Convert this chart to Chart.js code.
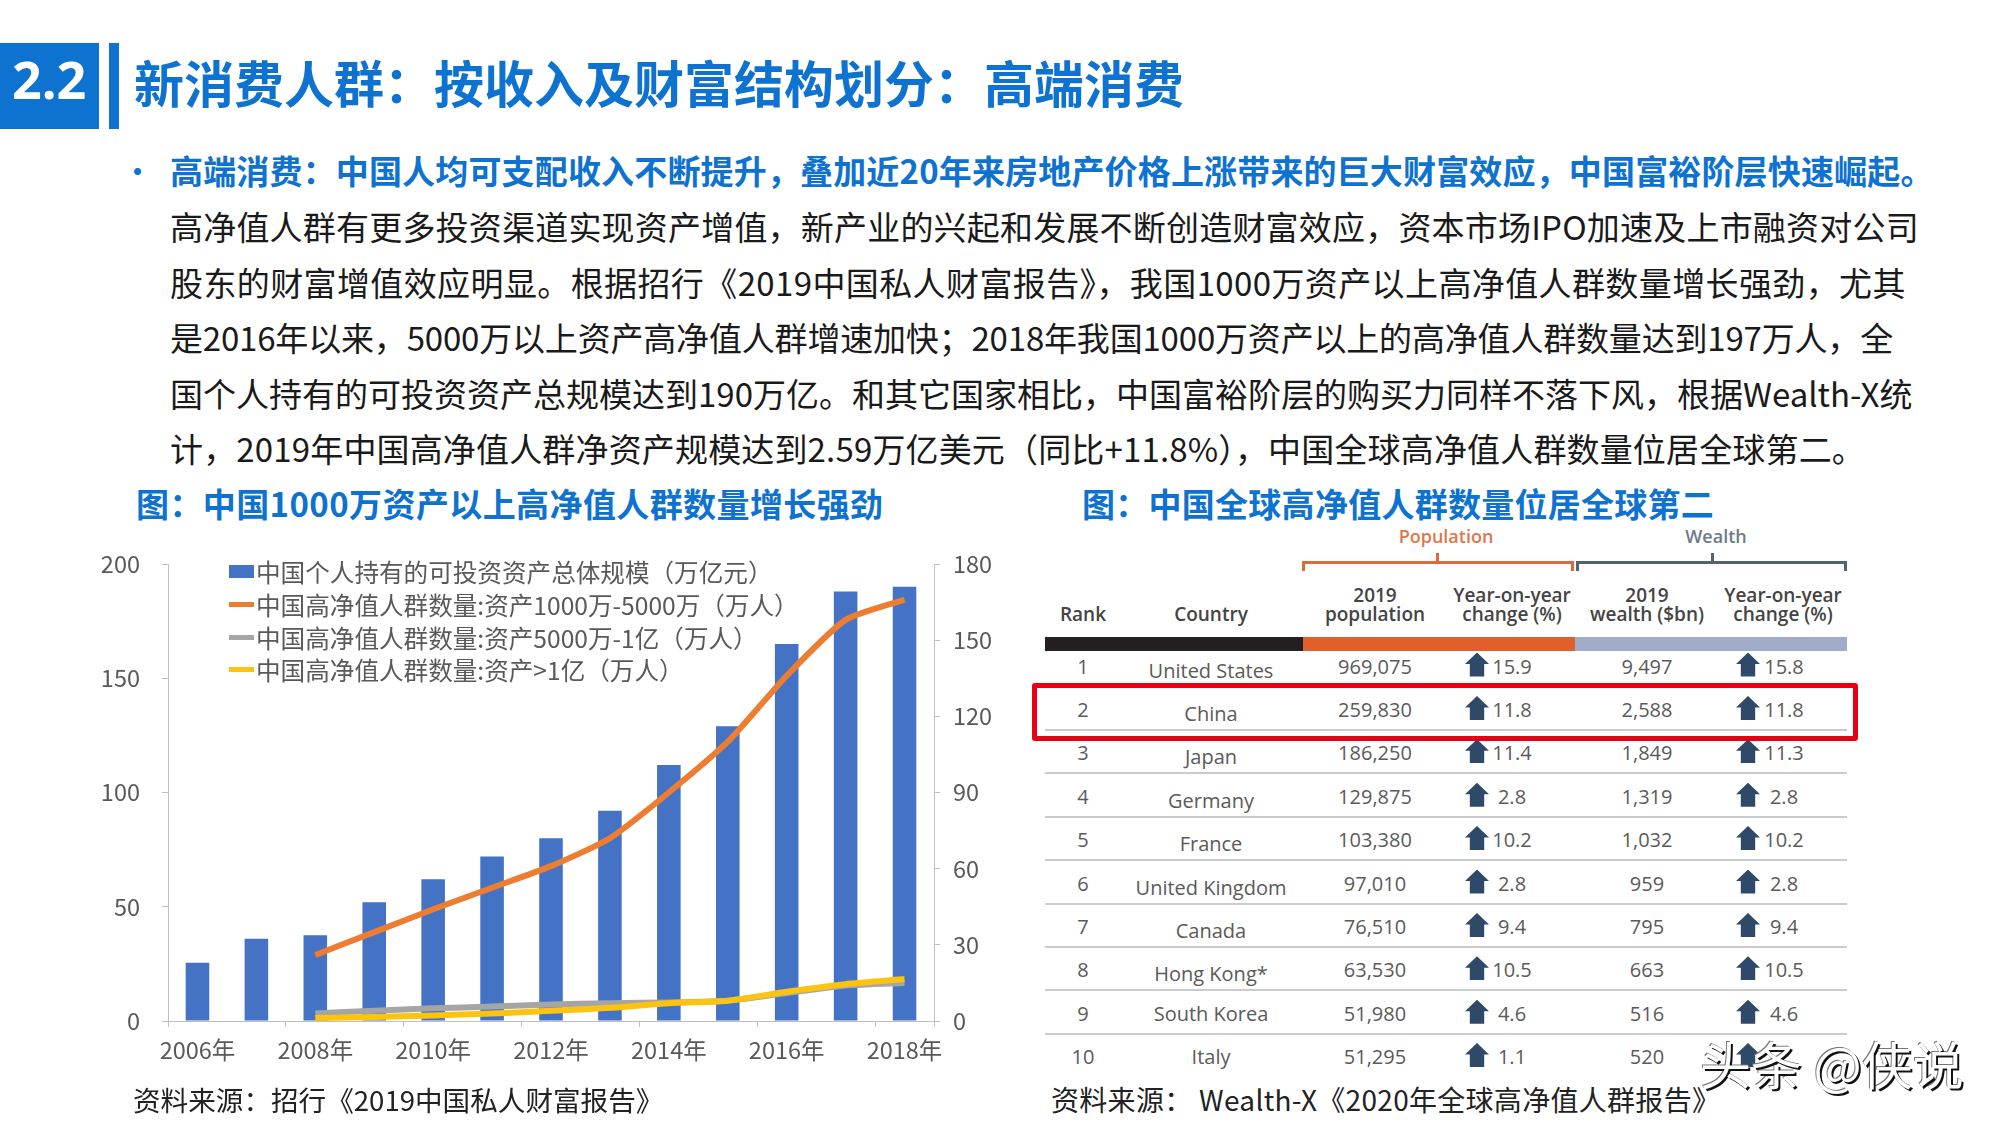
<!DOCTYPE html>
<html>
<head>
<meta charset="utf-8">
<title>高端消费</title>
<script src="https://cdn.jsdelivr.net/npm/chart.js@4"></script>
<style>
html, body { margin: 0; padding: 0; background: #fff; width: 2000px; height: 1125px; overflow: hidden; }
body { position: relative; font-family: "Noto Sans CJK SC", "Noto Sans", sans-serif; }
.abs { position: absolute; white-space: nowrap; }
.cell { position: absolute; white-space: nowrap; transform: translate(-50%, -50%); font-family: "Open Sans", sans-serif; font-size: 20px; color: #5a5a5a; }
.head { font-weight: 600; color: #444; font-size: 19px; line-height: 19px; }
.arrow { position: absolute; width: 24px; height: 24px; background: #2f4a68; transform: translate(-50%, -50%);
  clip-path: polygon(50% 0, 100% 48%, 80% 48%, 80% 100%, 20% 100%, 20% 48%, 0 48%); }
.line { font-size: 33px; line-height: 56px; height: 56px; left: 170px; color: #1a1a1a; }
.leg { position: absolute; left: 256px; font-size: 24.6px; line-height: 30px; color: #595959; white-space: nowrap; }
.sw { position: absolute; left: 229px; width: 25px; }
</style>
</head>
<body>
<div class="abs" style="left:0;top:43px;width:99px;height:86px;background:#0e72d0;"></div>
<div class="abs" style="left:109px;top:43px;width:10px;height:86px;background:#0e72d0;"></div>
<div class="abs" id="num" style="left:12px;top:39px;font:700 52px/80px 'Open Sans',sans-serif;color:#fff;">2.2</div>
<div class="abs" style="left:134px;top:46px;font-size:50px;line-height:70px;font-weight:700;color:#0e72d0;">新消费人群：按收入及财富结构划分：高端消费</div>

<div class="abs" style="left:121px;top:142px;font-size:33px;line-height:56px;color:#0e72d0;">•</div>
<div class="abs line" style="top:142px;letter-spacing:.16px;font-weight:700;color:#0e72d0;">高端消费：中国人均可支配收入不断提升，叠加近20年来房地产价格上涨带来的巨大财富效应，中国富裕阶层快速崛起。</div>
<div class="abs line" style="top:198px;letter-spacing:.2px;">高净值人群有更多投资渠道实现资产增值，新产业的兴起和发展不断创造财富效应，资本市场IPO加速及上市融资对公司</div>
<div class="abs line" style="top:254px;letter-spacing:.39px;">股东的财富增值效应明显。根据招行《2019中国私人财富报告》，我国1000万资产以上高净值人群数量增长强劲，尤其</div>
<div class="abs line" style="top:309px;letter-spacing:-.18px;">是2016年以来，5000万以上资产高净值人群增速加快；2018年我国1000万资产以上的高净值人群数量达到197万人，全</div>
<div class="abs line" style="top:365px;">国个人持有的可投资资产总规模达到190万亿。和其它国家相比，中国富裕阶层的购买力同样不落下风，根据Wealth-X统</div>
<div class="abs line" style="top:420px;letter-spacing:.16px;">计，2019年中国高净值人群净资产规模达到2.59万亿美元（同比+11.8%），中国全球高净值人群数量位居全球第二。</div>

<div class="abs" style="left:136px;top:479px;font-size:33px;letter-spacing:.4px;line-height:48px;font-weight:700;color:#0e72d0;">图：中国1000万资产以上高净值人群数量增长强劲</div>
<div class="abs" style="left:1082px;top:479px;font-size:33px;letter-spacing:.27px;line-height:48px;font-weight:700;color:#0e72d0;">图：中国全球高净值人群数量位居全球第二</div>

<canvas id="comboChart" width="940" height="540" style="position:absolute;left:80px;top:540px;"></canvas>
<div id="legendBox"></div>
<div id="tableBox"></div>

<div class="abs" style="left:133px;top:1079px;font-size:27.6px;line-height:40px;color:#222;">资料来源：招行《2019中国私人财富报告》</div>
<div class="abs" style="left:1051px;top:1079px;font-size:28px;letter-spacing:.3px;line-height:40px;color:#222;">资料来源： Wealth-X《2020年全球高净值人群报告》</div>
<div class="abs" style="left:1700px;top:1028px;font-size:51px;line-height:70px;color:#fff;text-shadow:2px 2px 0 #111,-1px -1px 0 #777;z-index:5;">头条 @侠说</div>

<script>
var years = ['2006年', '2007年', '2008年', '2009年', '2010年', '2011年', '2012年', '2013年', '2014年', '2015年', '2016年', '2017年', '2018年'];
var totalAssets = [25.5, 36, 37.5, 52, 62, 72, 80, 92, 112, 129, 165, 188, 190];
var people1000to5000 = [null, null, 26, 35, 44, 52.5, 61, 72, 90, 110, 136, 158, 166];
var people5000to1yi = [null, null, 3, 4, 5, 5.7, 6.5, 7, 7.3, 8, 11, 14, 15];
var peopleOver1yi = [null, null, 1.2, 1.6, 2.2, 3, 4, 5.2, 7, 8, 11.5, 14.5, 16.5];

var seriesLabels = [
    '中国个人持有的可投资资产总体规模（万亿元）',
    '中国高净值人群数量:资产1000万-5000万（万人）',
    '中国高净值人群数量:资产5000万-1亿（万人）',
    '中国高净值人群数量:资产>1亿（万人）'
];
var seriesColors = ['#4472c4', '#ed7d31', '#a5a5a5', '#fcc30f'];

var ranks = ['1', '2', '3', '4', '5', '6', '7', '8', '9', '10'];
var countries = ['United States', 'China', 'Japan', 'Germany', 'France', 'United Kingdom', 'Canada', 'Hong Kong*', 'South Korea', 'Italy'];
var population2019 = ['969,075', '259,830', '186,250', '129,875', '103,380', '97,010', '76,510', '63,530', '51,980', '51,295'];
var populationChange = ['15.9', '11.8', '11.4', '2.8', '10.2', '2.8', '9.4', '10.5', '4.6', '1.1'];
var wealth2019 = ['9,497', '2,588', '1,849', '1,319', '1,032', '959', '795', '663', '516', '520'];
var wealthChange = ['15.8', '11.8', '11.3', '2.8', '10.2', '2.8', '9.4', '10.5', '4.6', ''];

var axisColor = '#bfbfbf';
var tickColor = '#595959';
var tickFont = { family: '"Noto Sans CJK SC"', size: 23.5 };

var comboChart = new Chart(document.getElementById('comboChart'), {
    type: 'bar',
    data: {
        labels: years,
        datasets: [
            { label: seriesLabels[0], data: totalAssets, backgroundColor: seriesColors[0], yAxisID: 'y', order: 4, barPercentage: 0.4, categoryPercentage: 1 },
            { type: 'line', label: seriesLabels[1], data: people1000to5000, borderColor: seriesColors[1], borderWidth: 6, pointRadius: 0, tension: 0.2, yAxisID: 'y1', order: 3 },
            { type: 'line', label: seriesLabels[2], data: people5000to1yi, borderColor: seriesColors[2], borderWidth: 6, pointRadius: 0, tension: 0.2, yAxisID: 'y1', order: 2 },
            { type: 'line', label: seriesLabels[3], data: peopleOver1yi, borderColor: seriesColors[3], borderWidth: 6, pointRadius: 0, tension: 0.2, yAxisID: 'y1', order: 1 }
        ]
    },
    options: {
        responsive: false,
        animation: false,
        devicePixelRatio: 1,
        layout: { autoPadding: false, padding: { top: 24 } },
        plugins: { legend: { display: false }, tooltip: { enabled: false } },
        scales: {
            x: {
                afterFit: function (scale) { scale.height = 59; },
                border: { color: axisColor },
                grid: {
                    offset: true,
                    drawOnChartArea: false,
                    tickLength: 6,
                    tickColor: function (ctx) { return ctx.index % 2 ? 'transparent' : axisColor; }
                },
                ticks: {
                    autoSkip: false,
                    maxRotation: 0,
                    padding: 9,
                    color: tickColor,
                    font: tickFont,
                    callback: function (value, index) { return index % 2 ? '' : years[index]; }
                }
            },
            y: {
                position: 'left',
                min: 0,
                max: 200,
                afterFit: function (scale) { scale.width = 88; scale.paddingTop = 0; scale.paddingBottom = 0; },
                border: { color: axisColor },
                grid: { drawOnChartArea: false, tickLength: 6, tickColor: axisColor },
                ticks: { stepSize: 50, padding: 22, color: tickColor, font: tickFont }
            },
            y1: {
                position: 'right',
                min: 0,
                max: 180,
                afterFit: function (scale) { scale.width = 86; scale.paddingTop = 0; scale.paddingBottom = 0; },
                border: { color: axisColor },
                grid: { drawOnChartArea: false, tickLength: 6, tickColor: axisColor },
                ticks: { stepSize: 30, padding: 13, color: tickColor, font: tickFont }
            }
        }
    }
});

// legend sits inside the plot, so it is plain html on top of the canvas
var legendBox = document.getElementById('legendBox');
var legendRows = [571, 604, 637, 669];
seriesLabels.forEach(function (label, i) {
    var sw = document.createElement('div');
    var h = i === 0 ? 13 : 5;
    sw.className = 'sw';
    sw.style.top = (legendRows[i] - h / 2) + 'px';
    sw.style.height = h + 'px';
    sw.style.background = seriesColors[i];
    legendBox.appendChild(sw);
    var t = document.createElement('div');
    t.className = 'leg';
    t.style.top = (legendRows[i] - 15) + 'px';
    t.textContent = label;
    legendBox.appendChild(t);
});

// the right hand table
var tableBox = document.getElementById('tableBox');
function addCell(x, y, text, cls, extra) {
    var d = document.createElement('div');
    d.className = 'cell ' + (cls || '');
    d.style.left = x + 'px';
    d.style.top = y + 'px';
    d.innerHTML = text;
    if (extra) d.style.cssText += extra;
    tableBox.appendChild(d);
}
function addRect(x, y, w, h, color) {
    var d = document.createElement('div');
    d.style.cssText = 'position:absolute;left:' + x + 'px;top:' + y + 'px;width:' + w + 'px;height:' + h + 'px;background:' + color;
    tableBox.appendChild(d);
}
function addArrow(x, y) {
    var d = document.createElement('div');
    d.className = 'arrow';
    d.style.left = x + 'px';
    d.style.top = y + 'px';
    tableBox.appendChild(d);
}

addCell(1446, 536, 'Population', '', 'font-weight:600;font-size:18px;color:#e0764a');
addCell(1716, 536, 'Wealth', '', 'font-weight:600;font-size:18px;color:#6d7a88');
addRect(1302, 561, 272, 3, '#dc6b3c');
addRect(1302, 561, 3, 10, '#dc6b3c');
addRect(1571, 561, 3, 10, '#dc6b3c');
addRect(1436, 553, 3, 9, '#dc6b3c');
addRect(1576, 561, 271, 3, '#55626f');
addRect(1576, 561, 3, 10, '#55626f');
addRect(1844, 561, 3, 10, '#55626f');
addRect(1711, 553, 3, 9, '#55626f');

addCell(1083, 614, 'Rank', 'head');
addCell(1211, 614, 'Country', 'head');
addCell(1375, 605, '2019<br>population', 'head', 'text-align:center');
addCell(1512, 605, 'Year-on-year<br>change (%)', 'head', 'text-align:center');
addCell(1647, 605, '2019<br>wealth ($bn)', 'head', 'text-align:center');
addCell(1783, 605, 'Year-on-year<br>change (%)', 'head', 'text-align:center');

addRect(1045, 637, 258, 14, '#231f20');
addRect(1303, 637, 272, 14, '#e05f2a');
addRect(1575, 637, 272, 14, '#9fadc8');

var rowTop = 665.5;
var rowStep = 43.4;
ranks.forEach(function (rank, i) {
    var y = rowTop + i * rowStep;
    addCell(1083, y, rank);
    addCell(1211, i < 8 ? y + 4 : y, countries[i]);
    addCell(1375, y, population2019[i]);
    addArrow(1477, y - 1);
    addCell(1512, y, populationChange[i]);
    addCell(1647, y, wealth2019[i]);
    addArrow(1748, y - 1);
    addCell(1784, y, wealthChange[i]);
    if (i > 0 && i < 9) addRect(1045, y + 20, 802, 2, '#c8cccc');
});
var redBox = document.createElement('div');
redBox.style.cssText = 'position:absolute;left:1032px;top:683px;width:816px;height:48px;border:5px solid #e60012;border-radius:3px;';
tableBox.appendChild(redBox);
</script>
</body>
</html>
